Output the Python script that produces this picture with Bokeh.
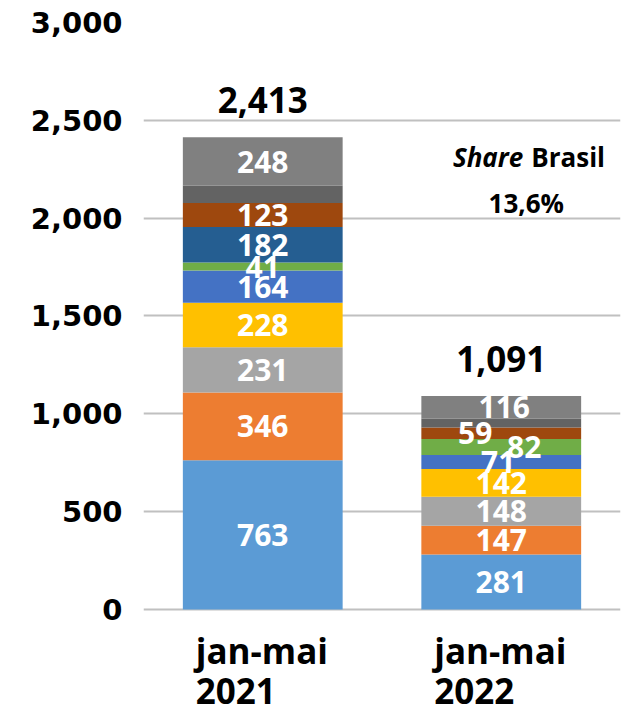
from bokeh.plotting import figure
from bokeh.models import ColumnDataSource, LabelSet, NumeralTickFormatter, Range1d
from bokeh.core.properties import value
from bokeh.embed import file_html
from bokeh.resources import INLINE

# ---- data ----
periods = ["jan-mai 2021", "jan-mai 2022"]
period_line1 = ["jan-mai", "jan-mai"]
period_line2 = ["2021", "2022"]

s1 = [763, 281]
s2 = [346, 147]
s3 = [231, 148]
s4 = [228, 142]
s5 = [164, 71]
s6 = [41, 82]
s7 = [182, 0]
s8 = [123, 59]
s9 = [87, 45]
s10 = [248, 116]
totals = [2413, 1091]

share_title = ["Share", "Brasil"]
share_value = "13,6%"

y_ticks = [0, 500, 1000, 1500, 2000, 2500, 3000]

# ---- styles ----
series_names = ["s1", "s2", "s3", "s4", "s5", "s6", "s7", "s8", "s9", "s10"]
series_vals = [s1, s2, s3, s4, s5, s6, s7, s8, s9, s10]
colors = ["#5B9BD5", "#ED7D31", "#A5A5A5", "#FFC000", "#4472C4",
          "#70AD47", "#255E91", "#9E480E", "#636363", "#808080"]
show_label = [True, True, True, True, True, True, True, True, False, True]
# per-label horizontal offsets (px) for [2021, 2022]
label_dx = [[0, 0], [0, 0], [0, 0], [0, 0], [0, -3],
            [0, 23], [0, 0], [0, -26], [0, 0], [0, 3]]

FONT = value("Open Sans")

data = {"period": periods}
for n, v in zip(series_names, series_vals):
    data[n] = v
src = ColumnDataSource(data)

# y range extends below zero so that the category texts sit inside the frame
p = figure(x_range=periods, y_range=Range1d(-532, 3000), width=621, height=713,
           output_backend="svg", toolbar_location=None,
           min_border_left=143, min_border_right=1, min_border_top=22,
           min_border_bottom=0)
p.outline_line_color = None
p.background_fill_color = "white"
p.border_fill_color = "white"

p.vbar_stack(series_names, x="period", width=0.67, color=colors, source=src,
             line_width=0)

# segment labels
lx, ly, lt, ldx = [], [], [], []
for j, per in enumerate(periods):
    cum = 0
    for i, v in enumerate(series_vals):
        val = v[j]
        if show_label[i] and val > 0:
            lx.append(per)
            ly.append(cum + val / 2)
            lt.append(f"{val:,}")
            ldx.append(label_dx[i][j])
        cum += val
seg_src = ColumnDataSource(dict(x=lx, y=ly, t=lt, dx=ldx))
p.add_layout(LabelSet(x="x", y="y", text="t", x_offset="dx", source=seg_src,
                      text_align="center", text_baseline="middle",
                      text_color="white", text_font=FONT,
                      text_font_style="bold", text_font_size="30px"))

# totals
tot_src = ColumnDataSource(dict(x=periods, y=totals, t=[f"{t:,}" for t in totals]))
p.add_layout(LabelSet(x="x", y="y", text="t", source=tot_src, y_offset=37,
                      text_align="center", text_baseline="middle",
                      text_color="black", text_font=FONT,
                      text_font_style="bold", text_font_size="35px"))

# category labels (two left-aligned lines)
cat_src = ColumnDataSource(dict(x=periods, y=[0, 0], l1=period_line1, l2=period_line2))
p.add_layout(LabelSet(x="x", y="y", text="l1", source=cat_src, x_offset=-67,
                      y_offset=-55, text_align="left", text_baseline="alphabetic",
                      text_color="black", text_font=FONT,
                      text_font_style="bold", text_font_size="35px"))
p.add_layout(LabelSet(x="x", y="y", text="l2", source=cat_src, x_offset=-67,
                      y_offset=-95, text_align="left", text_baseline="alphabetic",
                      text_color="black", text_font=FONT,
                      text_font_style="bold", text_font_size="35px"))

# share annotation
sh_src = ColumnDataSource(dict(x=[periods[1]], y=[2310], y2=[2075],
                               a=[share_title[0]], b=[share_title[1]], c=[share_value]))
p.add_layout(LabelSet(x="x", y="y", text="a", source=sh_src, x_offset=22,
                      text_align="right", text_baseline="middle",
                      text_color="black", text_font=FONT,
                      text_font_style="bold italic", text_font_size="26px"))
p.add_layout(LabelSet(x="x", y="y", text="b", source=sh_src, x_offset=30,
                      text_align="left", text_baseline="middle",
                      text_color="black", text_font=FONT,
                      text_font_style="bold", text_font_size="26px"))
p.add_layout(LabelSet(x="x", y="y2", text="c", source=sh_src, x_offset=25,
                      text_align="center", text_baseline="middle",
                      text_color="black", text_font=FONT,
                      text_font_style="bold", text_font_size="26px"))

# axes
p.xaxis.visible = False
p.xgrid.grid_line_color = None
p.ygrid.grid_line_color = "#C0C0C0"
p.ygrid.grid_line_width = 2
p.yaxis.ticker = y_ticks
p.yaxis.formatter = NumeralTickFormatter(format="0,0")
p.yaxis.axis_line_color = None
p.yaxis.major_tick_line_color = None
p.yaxis.minor_tick_line_color = None
p.yaxis.major_label_standoff = 15
p.yaxis.major_label_text_font = "DejaVu Sans"
p.yaxis.major_label_text_font_style = "bold"
p.yaxis.major_label_text_font_size = "29px"
p.yaxis.major_label_text_color = "black"

open("out.html", "w").write(file_html(p, INLINE))
